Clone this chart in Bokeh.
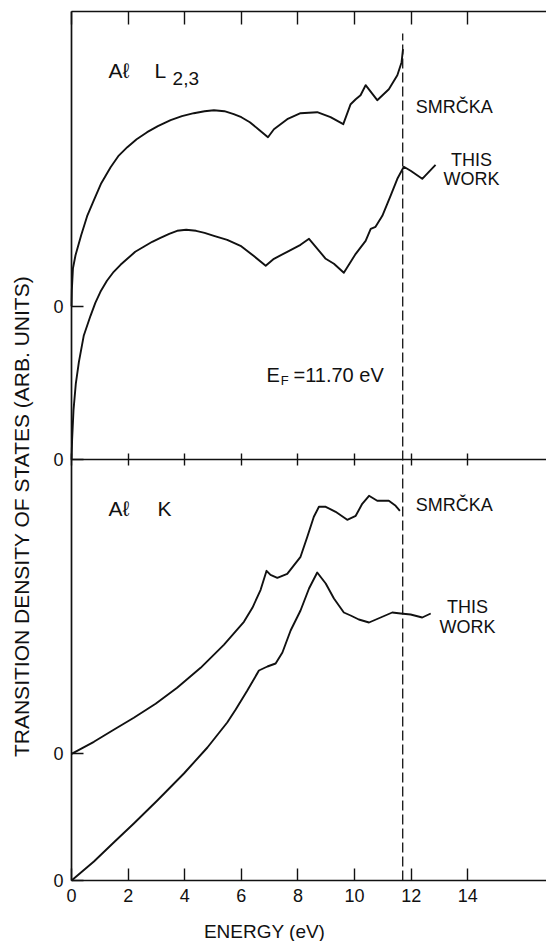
from math import pi

import numpy as np
from bokeh.embed import file_html
from bokeh.models import FixedTicker, Label, LinearAxis, Range1d
from bokeh.plotting import figure
from bokeh.resources import INLINE

# ---------------------------------------------------------------- data
# Energy (eV) and transition density of states (arb. units, each curve
# measured from its own zero line).
l23_smrcka_e = [0.0, 0.01, 0.05, 0.14, 0.34, 0.55, 0.79, 1.05, 1.38, 1.65, 1.97,
                2.30, 2.67, 3.05, 3.50, 3.90, 4.32, 4.70, 5.03, 5.40, 5.73, 6.00,
                6.30, 6.60, 6.94, 7.15, 7.62, 8.09, 8.68, 9.15, 9.60, 9.86, 10.04,
                10.21, 10.39, 10.80, 11.21, 11.51, 11.66, 11.71]
l23_smrcka_v = [0.0, 1.6, 3.8, 5.1, 7.1, 9.0, 10.6, 12.3, 13.9, 15.0, 15.9,
                16.7, 17.4, 18.0, 18.6, 19.0, 19.3, 19.5, 19.6, 19.5, 19.2, 18.9,
                18.4, 17.7, 16.9, 17.7, 18.7, 19.3, 19.4, 18.9, 18.2, 20.2, 20.7,
                21.1, 22.1, 20.6, 21.7, 23.1, 24.4, 25.7]

l23_this_e = [0.0, 0.02, 0.07, 0.15, 0.26, 0.43, 0.67, 0.84, 1.02, 1.25, 1.49,
              1.73, 1.97, 2.25, 2.55, 2.85, 3.14, 3.45, 3.73, 4.05, 4.40, 4.70,
              5.03, 5.50, 5.97, 6.43, 6.86, 7.15, 7.62, 8.09, 8.39, 8.98, 9.27,
              9.62, 10.04, 10.39, 10.57, 10.74, 10.98, 11.27, 11.51, 11.74, 11.98,
              12.39, 12.86]
l23_this_v = [0.0, 2.0, 5.0, 7.6, 9.8, 12.4, 14.4, 15.7, 16.8, 17.9, 18.8,
              19.5, 20.1, 20.8, 21.3, 21.8, 22.2, 22.6, 22.9, 23.0, 22.9, 22.7,
              22.4, 22.0, 21.4, 20.4, 19.4, 20.1, 20.8, 21.5, 22.1, 20.1, 19.6,
              18.7, 20.6, 21.9, 23.1, 23.3, 24.4, 26.4, 28.1, 29.3, 28.9,
              28.1, 29.5]

k_smrcka_e = [0.0, 0.79, 1.49, 2.20, 2.97, 3.73, 4.56, 5.38, 6.09, 6.39, 6.68,
              6.89, 7.03, 7.27, 7.62, 8.09, 8.33, 8.56, 8.74, 8.98, 9.33, 9.74,
              10.04, 10.27, 10.51, 10.80, 11.21, 11.45, 11.60]
k_smrcka_v = [0.0, 1.2, 2.4, 3.6, 5.0, 6.6, 8.6, 10.9, 13.2, 14.6, 16.4,
              18.3, 17.9, 17.6, 18.0, 19.7, 21.7, 23.7, 24.7, 24.7, 24.2, 23.4,
              23.8, 25.0, 25.8, 25.3, 25.3, 24.8, 24.3]

k_this_e = [0.0, 0.79, 1.49, 2.20, 3.03, 3.97, 4.80, 5.50, 5.80, 6.21, 6.62,
            6.92, 7.21, 7.45, 7.74, 8.09, 8.39, 8.68, 8.98, 9.27, 9.62, 9.86,
            10.15, 10.51, 10.92, 11.33, 11.63, 11.98, 12.39, 12.69]
k_this_v = [0.0, 1.9, 3.8, 5.7, 8.0, 10.7, 13.3, 15.8, 17.1, 19.0, 21.0,
            21.4, 21.7, 22.8, 25.0, 27.0, 29.2, 30.8, 29.7, 28.2, 26.8, 26.5,
            26.1, 25.8, 26.3, 26.8, 26.7, 26.6, 26.3, 26.7]

fermi_energy = 11.70

energy_ticks = [0, 2, 4, 6, 8, 10, 12, 14]
energy_tick_labels = ["0", "2", "4", "6", "8", "10", "12", "14"]

# ---------------------------------------------------------------- layout
# The plotting frame covers the whole canvas; the axes are pinned inside it.
X_START, X_END = -2.51, 16.78     # eV
Y_START, Y_END = -6.1, 88.0       # arb. units, both panels stacked
Y_FRAME_TOP = 86.9

ZERO_K_THIS = 0.0                 # zero line of each curve
ZERO_K_SMRCKA = 12.67
ZERO_L_THIS = 42.07               # also the boundary between the panels
ZERO_L_SMRCKA = 57.43
DASH_TOP = 84.7

zero_ticks = [ZERO_K_THIS, ZERO_K_SMRCKA, ZERO_L_THIS, ZERO_L_SMRCKA]
zero_tick_labels = ["0", "0", "0", "0"]

FONT = "Liberation Sans"
INK = "#111111"

p = figure(width=546, height=941,
           x_range=Range1d(X_START, X_END), y_range=Range1d(Y_START, Y_END),
           output_backend="svg", toolbar_location=None,
           min_border=0, x_axis_location=None, y_axis_location=None)
p.outline_line_color = None
p.xgrid.visible = False
p.ygrid.visible = False
p.background_fill_color = "white"
p.border_fill_color = "white"


def make_axis(ticks, tick_in, tick_out=0, location=0.0, bounds=None,
              labels=None):
    ax = LinearAxis(ticker=FixedTicker(ticks=ticks), fixed_location=location)
    if bounds is not None:
        ax.bounds = bounds
    ax.axis_line_color = INK
    ax.axis_line_width = 1.7
    ax.major_tick_line_color = INK
    ax.major_tick_line_width = 1.4
    ax.major_tick_in = tick_in
    ax.major_tick_out = tick_out
    ax.minor_tick_line_color = None
    ax.major_label_text_font = FONT
    ax.major_label_text_font_size = "18px"
    if labels is None:
        ax.major_label_text_color = None
    else:
        ax.major_label_text_color = INK
        ax.major_label_overrides = dict(zip(ticks, labels))
    return ax


# energy axis along the bottom
xax = make_axis(energy_ticks, 12, location=0.0, bounds=(0, X_END),
                labels=energy_tick_labels)
xax.major_label_standoff = 8
p.add_layout(xax, "below")

# ticked frame edge along the top
p.add_layout(make_axis(energy_ticks, 13, location=Y_FRAME_TOP,
                       bounds=(0, X_END)), "above")

# boundary between the L2,3 and K panels, ticks crossing it
p.add_layout(make_axis(energy_ticks, 6, tick_out=6, location=ZERO_L_THIS,
                       bounds=(0, X_END)), "below")

# zero marks of the four curves
yax = make_axis(zero_ticks, 12, location=0.0, bounds=(0, Y_FRAME_TOP),
                labels=zero_tick_labels)
yax.major_label_standoff = 8
p.add_layout(yax, "left")

# Fermi level
p.segment(x0=[fermi_energy], y0=[0], x1=[fermi_energy], y1=[DASH_TOP],
          line_color=INK, line_width=1.3, line_dash="10 4")

# curves
for e, v, zero in [(l23_smrcka_e, l23_smrcka_v, ZERO_L_SMRCKA),
                   (l23_this_e, l23_this_v, ZERO_L_THIS),
                   (k_smrcka_e, k_smrcka_v, ZERO_K_SMRCKA),
                   (k_this_e, k_this_v, ZERO_K_THIS)]:
    p.line(e, np.array(v) + zero, line_color=INK, line_width=1.9,
           line_join="round")


def add_text(text, x, y, size, align="left", angle=0.0):
    # y is the vertical centre of the capitals
    p.add_layout(Label(x=x, y=y, text=text, text_font=FONT,
                       text_font_size=f"{size}px", text_color=INK,
                       text_align=align, text_baseline="middle", angle=angle))


# panel titles
add_text("Aℓ", 1.31, 81.0, 21)
add_text("L", 2.93, 81.0, 21)
add_text("2,3", 3.57, 80.2, 19)
add_text("Aℓ", 1.31, 37.2, 21)
add_text("K", 3.04, 37.2, 21)

# curve captions
add_text("SMRČKA", 12.16, 77.4, 18)
add_text("THIS", 14.13, 72.1, 18, align="center")
add_text("WORK", 14.13, 70.2, 18, align="center")
add_text("SMRČKA", 12.16, 37.6, 18)
add_text("THIS", 13.99, 27.4, 18, align="center")
add_text("WORK", 13.99, 25.4, 18, align="center")

# Fermi level caption
add_text("E", 6.89, 50.6, 20)
add_text("F", 7.39, 50.05, 13)
add_text("=11.70 eV", 7.84, 50.6, 20)

# axis titles
add_text("ENERGY (eV)", 6.82, -5.1, 19, align="center")
add_text("TRANSITION DENSITY OF STATES (ARB. UNITS)", -1.77, 36.4, 21,
         align="center", angle=pi / 2)

open("out.html", "w").write(file_html(p, INLINE))
